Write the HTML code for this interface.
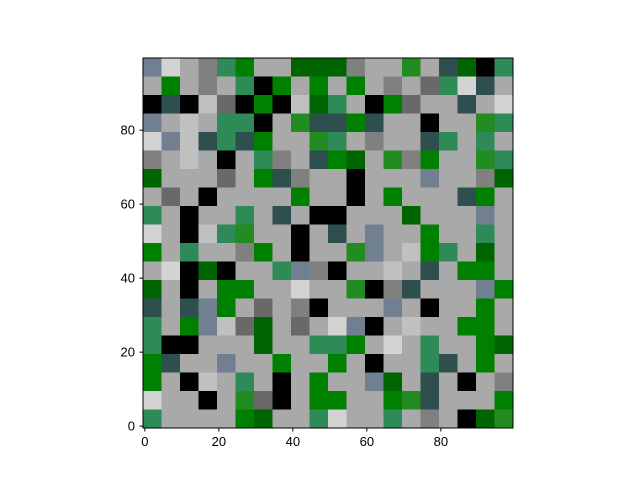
<!DOCTYPE html>
<html><head><meta charset="utf-8"><style>
html,body{margin:0;padding:0;background:#fff;}
svg{display:block;font-family:"Liberation Sans","DejaVu Sans",sans-serif;}
</style></head><body>
<svg id="chart" width="640" height="480" viewBox="0 0 640 480">
<g id="cells"></g>
<rect x="143" y="58" width="370" height="370" fill="none" stroke="#000" stroke-width="1"/>
<g id="axes"></g>
</svg>
<script>
// Palette of category colours
const palette = ["#000000","#006400","#008000","#228b22","#2e8b57","#2f4f4f","#696969","#808080","#708090","#a9a9a9","#c0c0c0","#d3d3d3"];
// Coarse 20x20 grid (each block = 5x5 image cells), rows listed from top (y≈99) to bottom (y≈0)
const gridRows = [
"8,11,9,7,4,2,9,9,1,1,1,7,9,9,3,9,5,1,0,4",
"9,2,9,7,9,4,0,2,9,2,9,2,9,7,9,6,4,11,5,9",
"0,5,0,10,6,0,2,0,10,1,4,9,0,2,6,9,9,5,9,11",
"8,9,10,9,4,4,0,9,3,5,5,2,5,9,9,0,9,9,3,4",
"11,8,10,5,4,5,2,9,9,3,4,9,7,9,9,5,4,9,4,9",
"7,9,10,9,0,9,4,7,9,5,2,1,9,3,7,2,9,9,3,4",
"1,9,9,9,6,9,2,5,7,9,9,0,9,9,9,8,9,9,7,1",
"9,6,9,0,9,9,9,9,2,9,9,0,9,2,9,9,9,5,2,9",
"4,9,0,9,9,4,9,5,9,0,0,9,9,9,1,9,9,9,8,9",
"11,9,0,10,4,3,9,9,0,9,5,9,8,9,9,2,9,9,4,9",
"2,9,4,9,9,7,2,9,0,9,9,3,8,9,10,2,4,9,1,9",
"9,11,0,1,0,9,9,4,8,7,0,9,9,10,9,5,9,2,2,9",
"1,9,0,9,2,2,9,9,11,9,9,3,0,7,5,9,9,9,8,2",
"5,9,5,8,2,9,6,9,7,0,9,9,9,8,9,0,9,9,2,9",
"4,9,2,8,10,6,1,9,6,9,11,8,0,9,10,9,9,2,2,9",
"4,0,0,9,9,9,1,9,9,4,4,2,9,11,9,4,9,9,2,1",
"2,5,9,9,8,9,9,2,9,9,2,9,0,9,9,4,5,9,2,9",
"2,9,0,10,9,4,9,0,9,2,9,9,8,1,9,5,9,0,9,7",
"11,9,9,0,9,3,6,0,9,2,2,9,9,2,3,5,9,9,9,2",
"4,9,9,9,9,2,1,9,9,4,11,9,9,4,9,7,9,0,1,3"
];
const xTicks = [0,20,40,60,80];
const yTicks = [0,20,40,60,80];
const blockSize = 5;

const NS = "http://www.w3.org/2000/svg";
const x0 = 143, y0 = 58, W = 370, H = 370, nCells = 100;
function xs(v){ return x0 + (v + 0.5) * W / nCells; }
function ys(v){ return y0 + H - (v + 0.5) * H / nCells; }

const cells = document.getElementById('cells');
const nRows = gridRows.length;
gridRows.forEach((row, r) => {
  row.split(',').map(Number).forEach((val, c) => {
    const rect = document.createElementNS(NS, 'rect');
    const cx = c * blockSize, cyTop = (nRows - r) * blockSize; // top edge in data units
    const px = xs(cx - 0.5), py = ys(cyTop - 0.5);
    const pw = xs(cx + blockSize - 0.5) - px, ph = ys(cyTop - blockSize - 0.5) - py;
    rect.setAttribute('x', px); rect.setAttribute('y', py);
    rect.setAttribute('width', pw + 0.3); rect.setAttribute('height', ph + 0.3);
    rect.setAttribute('fill', palette[val]);
    
    
    cells.appendChild(rect);
  });
});

const axes = document.getElementById('axes');
xTicks.forEach(t => {
  const l = document.createElementNS(NS, 'line');
  l.setAttribute('x1', xs(t)); l.setAttribute('x2', xs(t));
  l.setAttribute('y1', 428); l.setAttribute('y2', 431.5);
  l.setAttribute('stroke', '#000');
  
  
  axes.appendChild(l);
  const tx = document.createElementNS(NS, 'text');
  tx.setAttribute('x', xs(t)); tx.setAttribute('y', 446);
  tx.setAttribute('text-anchor', 'middle'); tx.setAttribute('font-size', '13');
  tx.textContent = t;
  
  
  axes.appendChild(tx);
});
yTicks.forEach(t => {
  const l = document.createElementNS(NS, 'line');
  l.setAttribute('x1', 139.5); l.setAttribute('x2', 143);
  l.setAttribute('y1', ys(t)); l.setAttribute('y2', ys(t));
  l.setAttribute('stroke', '#000');
  
  
  axes.appendChild(l);
  const tx = document.createElementNS(NS, 'text');
  tx.setAttribute('x', 135); tx.setAttribute('y', ys(t) + 4.5);
  tx.setAttribute('text-anchor', 'end'); tx.setAttribute('font-size', '13');
  tx.textContent = t;
  
  
  axes.appendChild(tx);
});
</script>
</body></html>
